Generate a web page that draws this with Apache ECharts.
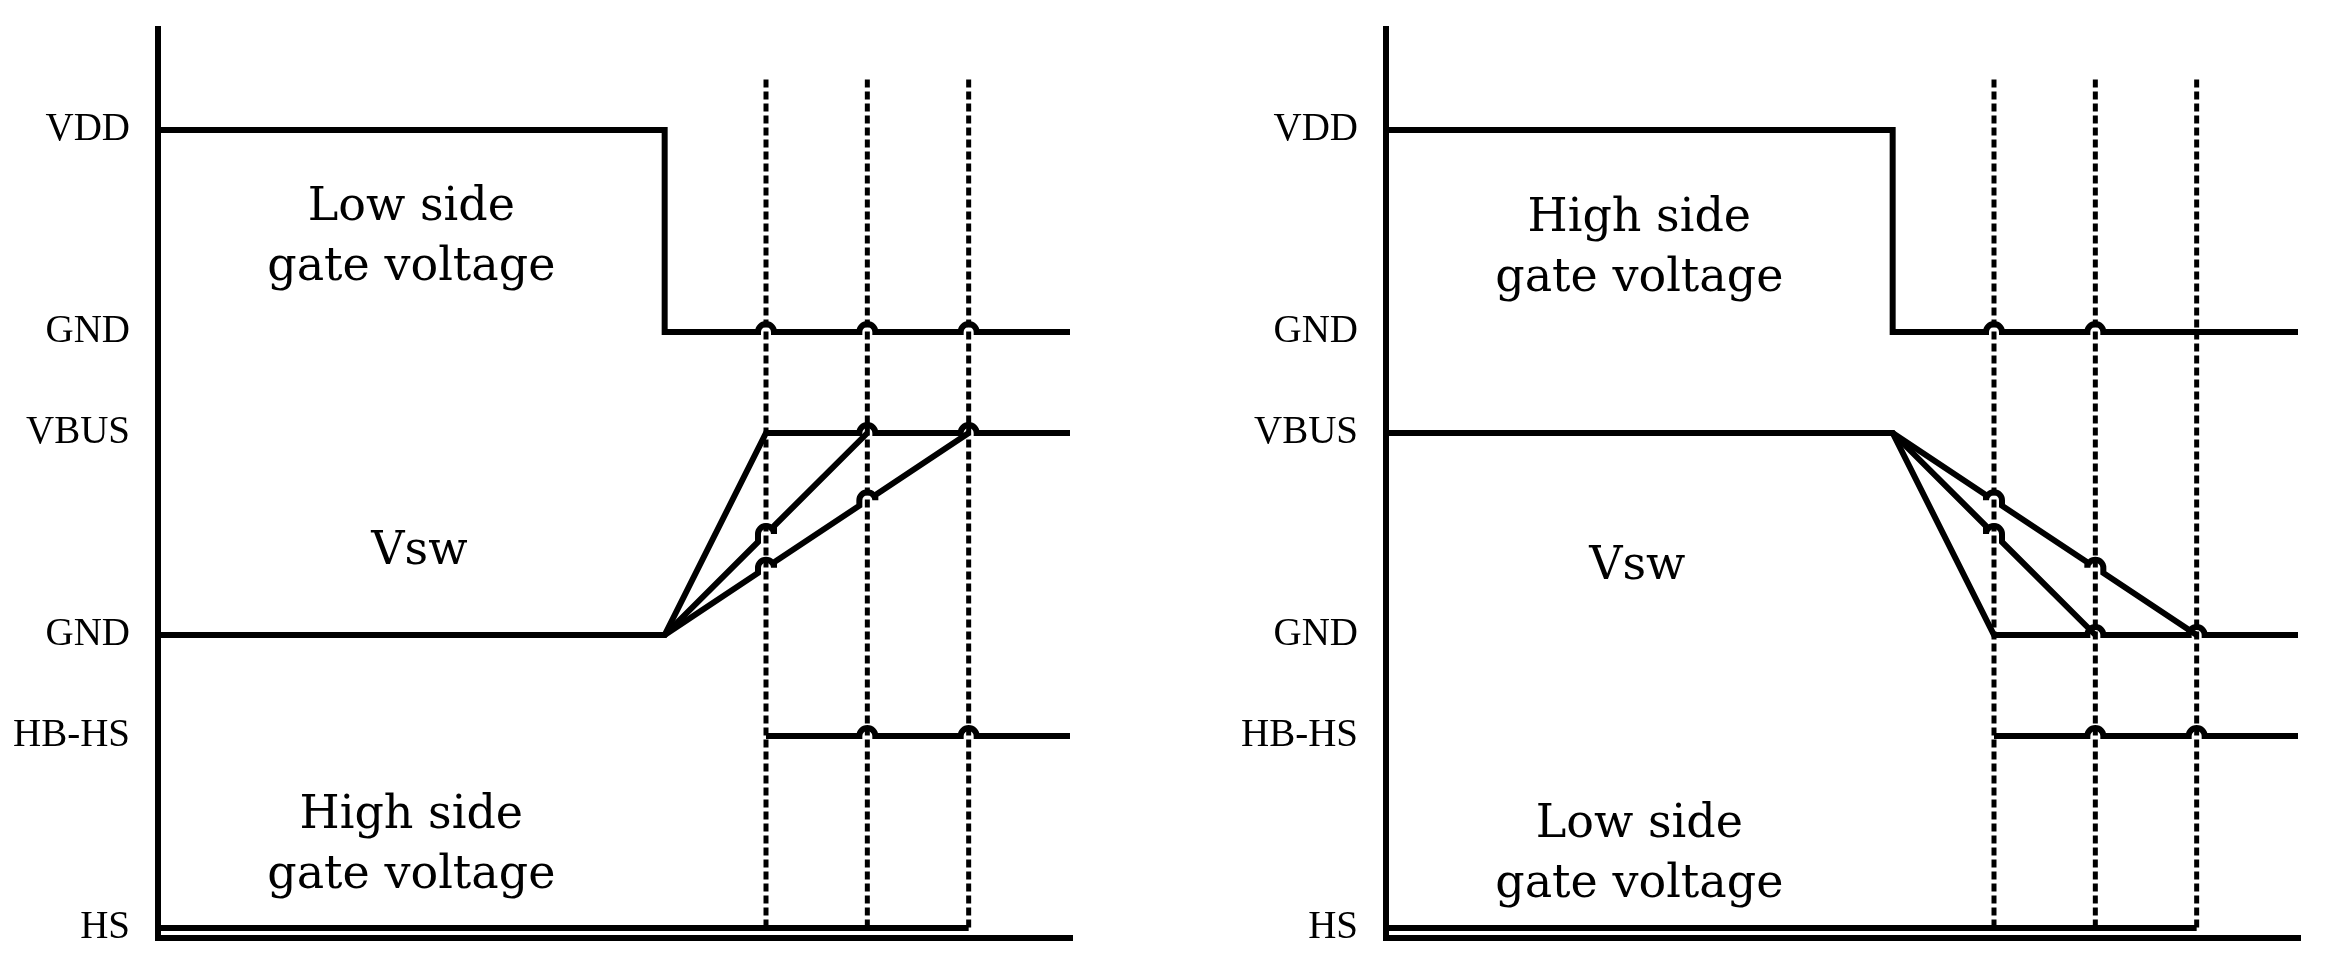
<!DOCTYPE html>
<html>
<head>
<meta charset="utf-8">
<script src="https://cdn.jsdelivr.net/npm/echarts@6/dist/echarts.min.js"></script>
<style>
  html, body { margin: 0; padding: 0; background: #fff; }
  #chart { width: 2336px; height: 970px; }
</style>
</head>
<body>
<div id="chart"></div>
<script>
// ---- tick labels (level names) and their levels ----
const levelLabels = ['HS', 'HB-HS', 'GND', 'VBUS', 'GND', 'VDD'];
const levelValues = [0.1, 2, 3, 5, 6, 8];

// ---- time markers (dashed lines) ----
const markerTimes = [6, 7, 8];
const markerTop = 8.5;
const markerBottom = 0.1;

// ---- left panel waveforms: vertices [time, level] and hop crossings ----
const leftLowGate = [[0, 8], [5, 8], [5, 6], [9, 6]];
const leftLowGateHops = [6, 7, 8];
const leftVswFast = [[0, 3], [5, 3], [6, 5], [9, 5]];
const leftVswFastHops = [7, 8];
const leftVswMid = [[5, 3], [7, 5]];
const leftVswMidHops = [6];
const leftVswSlow = [[5, 3], [8, 5]];
const leftVswSlowHops = [6, 7];
const leftHbHs = [[6, 2], [9, 2]];
const leftHbHsHops = [7, 8];
const leftHs = [[0, 0.1], [8, 0.1]];
const leftHsHops = [];

// ---- right panel waveforms ----
const rightHighGate = [[0, 8], [5, 8], [5, 6], [9, 6]];
const rightHighGateHops = [6, 7];
const rightVswFast = [[0, 5], [5, 5], [6, 3], [9, 3]];
const rightVswFastHops = [7, 8];
const rightVswMid = [[5, 5], [7, 3]];
const rightVswMidHops = [6];
const rightVswSlow = [[5, 5], [8, 3]];
const rightVswSlowHops = [6, 7];
const rightHbHs = [[6, 2], [9, 2]];
const rightHbHsHops = [7, 8];
const rightHs = [[0, 0.1], [8, 0.1]];
const rightHsHops = [];

// ---- annotation texts and anchors [time, level] ----
const leftNotes = ['Low side\ngate voltage', 'Vsw', 'High side\ngate voltage'];
const leftNoteAnchors = [[2.5, 6.93], [2.58, 3.82], [2.5, 0.91]];
const rightNotes = ['High side\ngate voltage', 'Vsw', 'Low side\ngate voltage'];
const rightNoteAnchors = [[2.5, 6.82], [2.48, 3.67], [2.5, 0.82]];

const HOP_R = 8;
const TXT_FONT = "'DejaVu Serif', 'Liberation Serif', serif";
const LBL_FONT = "'Liberation Serif', 'DejaVu Serif', serif";

function buildPath(points, hops, api) {
  const px = points.map(p => api.coord(p));
  const hopPx = hops.map(h => api.coord([h, 0])[0]).sort((u, v) => u - v);
  let d = 'M' + px[0][0] + ' ' + px[0][1];
  for (let i = 1; i < px.length; i++) {
    const a = px[i - 1], b = px[i];
    const lo = Math.min(a[0], b[0]), hi = Math.max(a[0], b[0]);
    if (hi - lo > 1) {
      const yAt = x => a[1] + (b[1] - a[1]) * (x - a[0]) / (b[0] - a[0]);
      hopPx.filter(hx => hx > lo + HOP_R && hx < hi - HOP_R).forEach(hx => {
        const yc = yAt(hx);
        d += ' L' + (hx - HOP_R) + ' ' + yAt(hx - HOP_R);
        d += ' L' + (hx - HOP_R) + ' ' + yc;
        d += ' A' + HOP_R + ' ' + HOP_R + ' 0 0 1 ' + (hx + HOP_R) + ' ' + yc;
        d += ' L' + (hx + HOP_R) + ' ' + yAt(hx + HOP_R);
      });
    }
    d += ' L' + b[0] + ' ' + b[1];
  }
  return d;
}

function waveSeries(idx, waves) {
  return {
    type: 'custom',
    coordinateSystem: 'cartesian2d',
    xAxisIndex: idx, yAxisIndex: idx,
    clip: false,
    silent: true,
    z: 3,
    data: waves.map(w => w.pts[0]),
    renderItem: function (params, api) {
      const w = waves[params.dataIndex];
      return {
        type: 'path',
        shape: { pathData: buildPath(w.pts, w.hops, api) },
        style: { stroke: '#000', fill: null, lineWidth: 6, lineJoin: 'miter', lineCap: 'butt' }
      };
    }
  };
}

function markerSeries(idx) {
  return markerTimes.map(t => ({
    type: 'line',
    xAxisIndex: idx, yAxisIndex: idx,
    data: [[t, markerTop], [t, markerBottom]],
    symbol: 'none',
    silent: true,
    z: 2,
    lineStyle: { color: '#000', width: 5, type: [8, 4], cap: 'butt' }
  }));
}

function noteSeries(idx, texts, anchors) {
  return {
    type: 'scatter',
    xAxisIndex: idx, yAxisIndex: idx,
    symbolSize: 1,
    silent: true,
    itemStyle: { color: 'rgba(0,0,0,0)', opacity: 1 },
    data: texts.map((t, i) => ({ name: t, value: anchors[i] })),
    label: {
      show: true,
      position: 'inside',
      formatter: '{b}',
      color: '#000',
      opacity: 1,
      fontFamily: TXT_FONT,
      fontSize: 46,
      lineHeight: 60,
      align: 'center',
      verticalAlign: 'middle'
    }
  };
}

function levelName(v) {
  const i = levelValues.findIndex(lv => Math.abs(lv - v) < 1e-6);
  return i >= 0 ? levelLabels[i] : '';
}

const axisLineStyle = { color: '#000', width: 6, cap: 'square' };
const grids = [
  { left: 158, top: 29, width: 912, height: 909 },
  { left: 1386, top: 29, width: 912, height: 909 }
];

const xAxes = [0, 1].map(i => ({
  gridIndex: i, type: 'value', min: 0, max: 9,
  axisLine: { show: true, onZero: false, lineStyle: axisLineStyle },
  axisTick: { show: false }, axisLabel: { show: false }, splitLine: { show: false }
}));
const yAxes = [0, 1].map(i => ({
  gridIndex: i, type: 'value', min: 0, max: 9,
  axisLine: { show: true, onZero: false, lineStyle: axisLineStyle },
  axisTick: { show: false }, splitLine: { show: false },
  axisLabel: {
    show: true, customValues: levelValues, formatter: levelName,
    color: '#000', fontFamily: LBL_FONT, fontSize: 39, margin: 28
  }
}));

const leftWaves = [
  { pts: leftLowGate, hops: leftLowGateHops },
  { pts: leftVswFast, hops: leftVswFastHops },
  { pts: leftVswMid, hops: leftVswMidHops },
  { pts: leftVswSlow, hops: leftVswSlowHops },
  { pts: leftHbHs, hops: leftHbHsHops },
  { pts: leftHs, hops: leftHsHops }
];
const rightWaves = [
  { pts: rightHighGate, hops: rightHighGateHops },
  { pts: rightVswFast, hops: rightVswFastHops },
  { pts: rightVswMid, hops: rightVswMidHops },
  { pts: rightVswSlow, hops: rightVswSlowHops },
  { pts: rightHbHs, hops: rightHbHsHops },
  { pts: rightHs, hops: rightHsHops }
];

const chart = echarts.init(document.getElementById('chart'), null, { renderer: 'canvas' });
chart.setOption({
  backgroundColor: '#fff',
  animation: false,
  grid: grids,
  xAxis: xAxes,
  yAxis: yAxes,
  series: [
    ...markerSeries(0),
    ...markerSeries(1),
    waveSeries(0, leftWaves),
    waveSeries(1, rightWaves),
    noteSeries(0, leftNotes, leftNoteAnchors),
    noteSeries(1, rightNotes, rightNoteAnchors)
  ]
});
</script>
</body>
</html>
